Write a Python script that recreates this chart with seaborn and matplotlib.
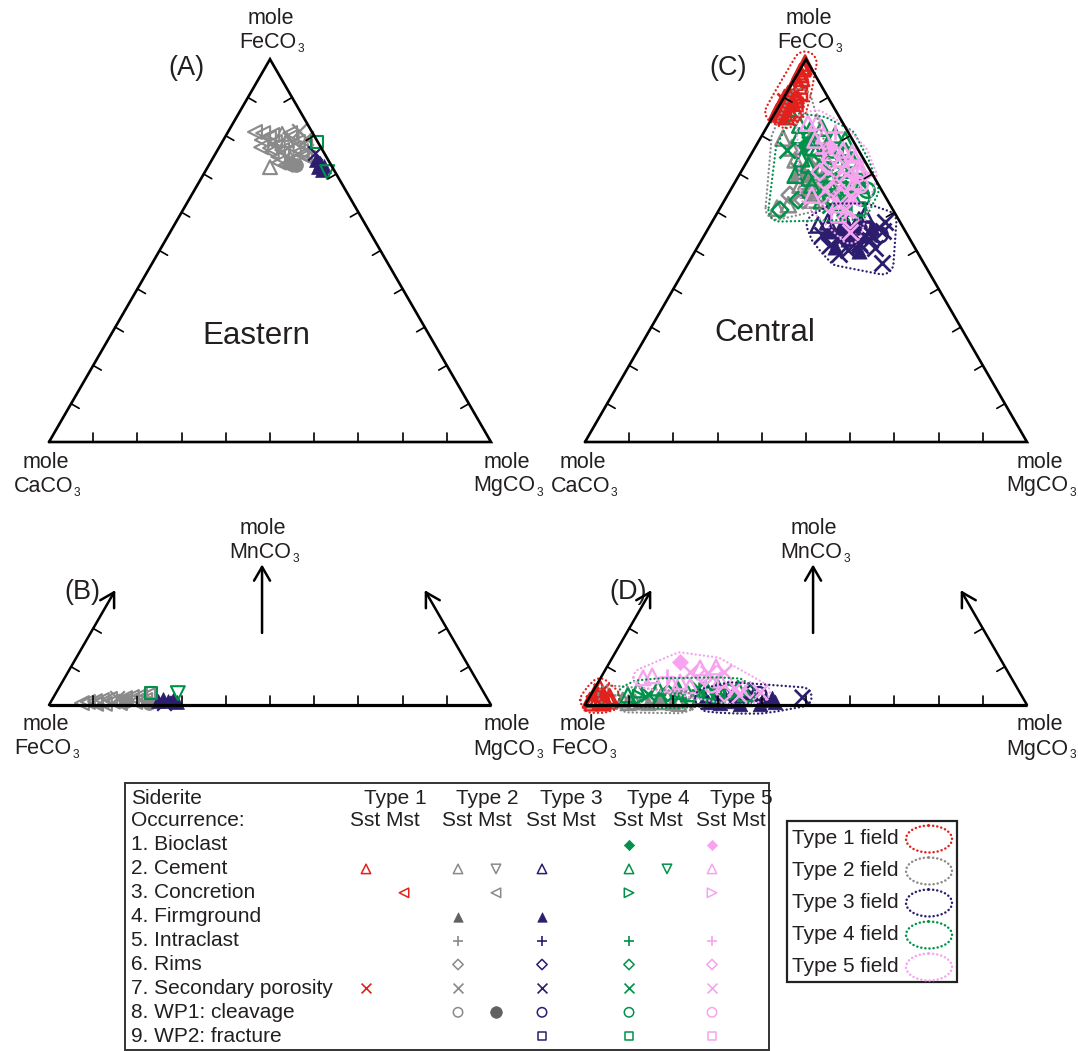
import warnings
warnings.filterwarnings('ignore')
import numpy as np
import pandas as pd
import matplotlib
matplotlib.use('Agg')
import matplotlib.pyplot as plt
from matplotlib.patches import Rectangle, Ellipse
import seaborn as sns

# ---------------------------------------------------------------- data
# Upper ternaries: mole % FeCO3 and MgCO3 (CaCO3 = remainder)
# Lower plots: mole % MgCO3 and MnCO3 (FeCO3 = remainder)
# occurrence codes: bio, cem_s, cem_m, con_s, con_m, firm, intra, rims, sec, wp1_s, wp1_m, wp2

# ---- Eastern (A)
A_T2_FE = [81.0, 80.7, 80.2, 80.5, 80.7, 81.2, 78.9, 78.4, 78.9, 78.4, 79.4, 76.8, 76.3, 76.8, 77.3,
           74.5, 74.2, 75.0, 71.8, 72.4, 72.4, 74.2, 72.9, 79.5, 77.5, 75.5, 73.5, 77.0, 75.8, 73.0,
           79.8, 76.0, 74.8]
A_T2_MG = [6.1, 8.1, 10.4, 12.5, 14.2, 16.0, 8.7, 11.9, 14.4, 17.1, 18.4, 11.6, 14.6, 17.0, 19.3,
           14.6, 17.4, 19.7, 14.1, 17.4, 19.7, 21.5, 18.1, 10.0, 13.0, 16.0, 18.5, 9.5, 12.5, 15.5,
           15.0, 19.0, 20.5]
A_T2_OCC = ['con_m', 'con_m', 'con_m', 'cem_s', 'con_m', 'sec', 'con_m', 'con_m', 'cem_s', 'con_m',
            'sec', 'con_m', 'con_m', 'con_m', 'con_m', 'con_m', 'cem_s', 'con_m', 'cem_s', 'con_m',
            'wp1_m', 'con_m', 'wp1_m', 'con_m', 'con_m', 'con_m', 'con_m', 'con_m', 'con_m', 'con_m',
            'con_m', 'con_m', 'con_m']
A_T3_FE = [75.5, 73.7, 72.9, 72.1, 71.8, 71.1]
A_T3_MG = [22.4, 23.6, 24.9, 26.2, 25.0, 26.2]
A_T3_OCC = ['sec', 'firm', 'firm', 'firm', 'firm', 'firm']
A_T4_FE = [78.4, 70.5]
A_T4_MG = [21.5, 27.7]
A_T4_OCC = ['wp2', 'cem_m']

# ---- Eastern (B)
B_T2_MG = [7.2, 8.4, 9.9, 11.3, 13.0, 14.5, 16.3, 17.7, 19.4, 21.1, 21.1, 19.1, 15.8, 12.5, 22.3,
           10.5, 17.0, 14.0]
B_T2_MN = [0.5, 0.8, 1.0, 1.3, 1.6, 1.8, 1.8, 2.1, 2.4, 2.6, 1.3, 0.8, 0.5, 0.3, 0.5, 0.3, 1.0, 0.9]
B_T2_OCC = ['con_m', 'con_m', 'con_m', 'con_m', 'con_m', 'sec', 'con_m', 'con_m', 'con_m', 'con_m',
            'con_m', 'con_m', 'con_m', 'con_m', 'wp1_m', 'con_m', 'wp1_m', 'con_m']
B_T3_MG = [24.1, 25.0, 26.4, 27.4, 28.6, 25.8]
B_T3_MN = [1.0, 1.6, 1.0, 1.3, 0.8, 0.6]
B_T3_OCC = ['firm', 'firm', 'firm', 'firm', 'firm', 'sec']
B_T4_MG = [21.5, 27.6]
B_T4_MN = [3.1, 3.1]
B_T4_OCC = ['wp2', 'cem_m']

# ---- Central (C)
C_T1_FE = [99.0, 96.7, 90.1, 86.2, 97.5, 96.0, 94.0, 92.0, 91.0, 90.0, 89.0, 88.5, 88.0, 87.5, 87.0,
           86.5, 86.0, 85.5, 85.0, 89.5, 88.0, 90.5, 87.0, 86.0, 98.0, 95.0, 93.0, 91.0, 89.0, 87.0,
           86.0, 88.0, 90.0]
C_T1_MG = [0.3, 0.3, 0.7, 0.3, 0.5, 0.8, 0.5, 1.0, 0.5, 1.5, 0.8, 2.0, 1.0, 0.3, 1.5, 2.5, 0.8, 1.8,
           3.0, 3.0, 3.5, 2.5, 4.0, 3.5, 0.5, 1.5, 2.0, 3.0, 1.0, 2.5, 1.2, 0.3, 0.2]
C_T1_OCC = ['cem_s'] * 10 + ['sec'] + ['cem_s'] * 4 + ['sec'] + ['cem_s'] * 4 + ['con_m'] + \
           ['cem_s'] * 6 + ['con_m'] + ['cem_s'] * 5
C_T2_FE = [89.3, 79.4, 61.1, 64.5, 67.1, 69.7, 72.4, 71.1, 65.8, 68.4, 63.2, 63.2, 70.5, 73.7, 76.3,
           78.9, 76.8, 64.5, 67.1, 70.0, 68.0, 66.0, 72.0, 74.0, 62.0, 65.0, 69.0]
C_T2_MG = [4.0, 5.1, 12.9, 14.1, 15.1, 14.9, 14.7, 12.6, 17.6, 17.8, 17.7, 19.8, 17.9, 10.7, 11.0,
           11.5, 8.4, 20.5, 20.8, 13.0, 16.0, 18.0, 17.0, 14.0, 15.0, 20.0, 19.0]
C_T2_OCC = ['intra', 'cem_s', 'cem_s', 'rims', 'cem_s', 'firm', 'cem_s', 'sec', 'cem_s', 'cem_s',
            'rims', 'cem_s', 'cem_s', 'cem_s', 'sec', 'cem_s', 'cem_s', 'wp1_s', 'cem_s', 'firm',
            'cem_s', 'cem_s', 'cem_s', 'sec', 'cem_s', 'cem_s', 'firm']
C_T3_FE = [54.1, 51.5, 52.8, 50.2, 51.5, 52.8, 55.9, 57.5, 50.7, 46.8, 59.3, 58.0, 56.7, 59.3, 55.9,
           54.1, 54.9, 57.5, 56.7, 54.1, 55.9, 57.0, 55.0, 53.0, 52.0, 50.0, 56.0, 54.0, 51.0, 49.0,
           58.0, 53.0, 55.0]
C_T3_MG = [26.6, 29.7, 31.3, 34.4, 36.5, 38.1, 38.3, 39.1, 40.3, 43.8, 26.9, 29.8, 32.7, 33.7, 29.7,
           32.9, 34.8, 26.2, 24.4, 39.7, 37.0, 30.0, 28.0, 33.0, 36.0, 37.0, 35.0, 38.0, 31.0, 33.0,
           33.0, 29.0, 40.0]
C_T3_OCC = ['sec'] * 10 + ['cem_s', 'firm', 'firm', 'cem_s', 'firm', 'firm', 'rims', 'cem_s', 'cem_s',
                           'wp1_s', 'firm', 'firm', 'firm', 'firm', 'sec', 'firm', 'wp2', 'sec', 'firm',
                           'sec', 'cem_s', 'rims', 'sec']
C_T4_FE = [82.8, 81.5, 82.0, 80.2, 78.9, 77.6, 76.8, 76.3, 75.0, 73.7, 72.4, 71.6, 71.1, 69.7, 68.4,
           67.1, 66.4, 65.8, 64.5, 63.7, 61.9, 61.1, 76.3, 69.7, 60.6, 63.2, 65.8, 61.1, 63.2, 80.0,
           79.0, 78.0, 74.0, 73.0, 70.0, 68.0, 66.0, 63.0, 69.0, 75.0, 77.0, 72.0, 67.0, 71.0, 76.0]
C_T4_MG = [7.2, 10.2, 12.6, 16.5, 19.4, 11.0, 14.3, 17.3, 20.6, 23.6, 14.3, 17.4, 21.0, 24.7, 27.6,
           17.8, 21.3, 24.8, 28.2, 30.8, 24.5, 28.3, 7.6, 12.7, 13.8, 16.6, 30.9, 31.2, 26.1, 8.5,
           12.0, 16.0, 12.0, 17.0, 20.0, 23.0, 26.0, 22.0, 16.0, 18.0, 13.0, 26.0, 29.0, 23.0, 21.0]
C_T4_OCC = ['cem_s', 'cem_s', 'cem_s', 'cem_s', 'cem_s', 'bio', 'cem_s', 'cem_s', 'intra', 'cem_s',
            'cem_s', 'cem_s', 'con_s', 'cem_s', 'sec', 'cem_s', 'cem_s', 'cem_m', 'cem_s', 'wp1_s',
            'sec', 'cem_s', 'sec', 'cem_s', 'rims', 'rims', 'wp1_s', 'wp2', 'sec', 'cem_s',
            'cem_s', 'cem_s', 'cem_s', 'sec', 'cem_s', 'cem_s', 'rims', 'cem_s', 'cem_s', 'cem_s',
            'cem_s', 'cem_s', 'cem_s', 'cem_s', 'cem_s']
C_T5_FE = [83.3, 83.6, 81.0, 75.5, 76.3, 75.5, 78.9, 73.7, 72.4, 71.1, 70.5, 69.0, 67.9, 67.1, 65.8,
           64.5, 63.7, 61.9, 60.6, 58.0, 54.9, 59.3, 64.5, 69.7, 80.0, 77.0, 74.0, 72.0, 70.0, 68.0,
           66.0, 64.0, 62.0, 71.0, 75.0]
C_T5_MG = [8.8, 10.7, 16.1, 16.1, 20.2, 22.7, 12.6, 18.6, 22.6, 26.2, 17.9, 22.1, 25.6, 28.7, 21.4,
           25.4, 28.8, 24.5, 28.5, 31.0, 32.5, 27.6, 19.1, 28.5, 14.0, 17.0, 21.0, 19.0, 24.0, 27.0,
           23.0, 28.0, 26.0, 27.0, 24.0]
C_T5_OCC = ['cem_s', 'cem_s', 'intra', 'intra', 'cem_s', 'cem_s', 'cem_s', 'rims', 'sec', 'cem_s',
            'rims', 'sec', 'rims', 'wp1_s', 'sec', 'rims', 'sec', 'rims', 'sec', 'rims',
            'sec', 'wp2', 'cem_s', 'con_s', 'cem_s', 'bio', 'cem_s', 'rims', 'sec', 'cem_s',
            'rims', 'sec', 'cem_s', 'cem_s', 'cem_s']

# ---- Central (D)
D_T1_MG = [0.5, 2.0, 3.9, 0.7, 1.2, 1.3, 3.8, 5.1, 2.5, 1.8, 4.5, 0.9, 3.0]
D_T1_MN = [1.3, 1.8, 1.3, 3.1, 4.4, 0.5, 0.5, 1.0, 2.8, 3.6, 2.2, 2.2, 0.8]
D_T1_OCC = ['cem_s'] * 9 + ['sec', 'cem_s', 'con_m', 'cem_s']
D_T2_MG = [3.9, 7.9, 10.9, 14.0, 16.6, 19.4, 22.2, 12.5, 18.0, 21.0, 9.5, 15.5]
D_T2_MN = [2.6, 1.3, 0.8, 0.5, 0.8, 0.5, 0.8, 1.2, 1.3, 0.4, 0.6, 1.5]
D_T2_OCC = ['intra', 'cem_s', 'cem_s', 'firm', 'cem_s', 'firm', 'sec', 'cem_s', 'rims', 'cem_s',
            'cem_s', 'firm']
D_T3_MG = [26.2, 28.2, 30.9, 32.9, 35.4, 37.4, 40.1, 41.4, 30.3, 34.9, 39.5, 31.1, 35.8, 48.0, 27.5,
           33.0, 38.0, 42.5]
D_T3_MN = [1.8, 2.4, 1.6, 2.1, 1.6, 2.1, 1.3, 1.8, 0.5, 0.3, 0.3, 3.4, 3.1, 2.1, 0.8, 1.0, 2.8, 0.8]
D_T3_OCC = ['firm', 'firm', 'cem_s', 'firm', 'firm', 'sec', 'firm', 'firm', 'firm', 'firm', 'firm',
            'sec', 'rims', 'sec', 'firm', 'firm', 'wp1_s', 'firm']
D_T4_MG = [8.4, 10.0, 12.8, 14.3, 17.2, 18.9, 21.9, 23.3, 26.1, 27.7, 30.7, 32.4, 34.8, 25.0, 20.6,
           16.1, 11.5, 29.0, 24.0, 19.5]
D_T4_MN = [2.6, 3.9, 2.9, 4.4, 3.1, 4.2, 2.9, 4.4, 3.4, 4.7, 3.4, 4.4, 2.9, 2.1, 1.8, 1.8, 2.0, 2.5,
           3.8, 3.5]
D_T4_OCC = ['cem_s', 'cem_s', 'sec', 'cem_s', 'rims', 'cem_s', 'cem_s', 'sec', 'cem_s', 'cem_s',
            'wp1_s', 'cem_s', 'cem_s', 'cem_s', 'cem_s', 'cem_s', 'con_s', 'wp2', 'intra', 'cem_s']
D_T5_MG = [15.9, 9.6, 11.4, 14.9, 19.4, 21.2, 23.6, 24.7, 27.1, 23.6, 27.3, 31.7, 35.4, 37.9, 21.3,
           16.9, 26.0, 30.0, 18.5, 33.5]
D_T5_MN = [11.2, 7.1, 7.6, 7.3, 8.6, 9.7, 8.4, 9.9, 8.6, 7.1, 6.5, 4.4, 3.9, 3.4, 5.0, 5.5, 5.2, 3.0,
           6.0, 2.6]
D_T5_OCC = ['bio', 'cem_s', 'cem_s', 'intra', 'sec', 'cem_s', 'sec', 'cem_s', 'sec', 'rims',
            'cem_s', 'sec', 'rims', 'sec', 'cem_s', 'cem_s', 'wp1_s', 'rims', 'cem_s', 'sec']

# legend table content
ROW_LABELS = ['1. Bioclast', '2. Cement', '3. Concretion', '4. Firmground', '5. Intraclast',
              '6. Rims', '7. Secondary porosity', '8. WP1: cleavage', '9. WP2: fracture']
LEGEND_CODES = {1: ['cem_s', 'con_m', 'sec'],
                2: ['cem_s', 'cem_m', 'con_m', 'firm', 'intra', 'rims', 'sec', 'wp1_s', 'wp1_m'],
                3: ['cem_s', 'firm', 'intra', 'rims', 'sec', 'wp1_s', 'wp2'],
                4: ['bio', 'cem_s', 'cem_m', 'con_s', 'intra', 'rims', 'sec', 'wp1_s', 'wp2'],
                5: ['bio', 'cem_s', 'con_s', 'intra', 'rims', 'sec', 'wp1_s', 'wp2']}
TYPE_NAMES = ['Type 1', 'Type 2', 'Type 3', 'Type 4', 'Type 5']

# ---------------------------------------------------------------- styles
TYPE_COLORS = {1: '#E3211C', 2: '#8A8A8A', 3: '#2D1D6E', 4: '#00924A', 5: '#F7A3F0'}
STYLE = {'bio': ('D', 'filled'), 'cem_s': ('^', 'hollow'), 'cem_m': ('v', 'hollow'),
         'con_s': ('>', 'hollow'), 'con_m': ('<', 'hollow'), 'firm': ('^', 'filled'),
         'intra': ('+', 'line'), 'rims': ('D', 'hollow'), 'sec': ('x', 'line'),
         'wp1_s': ('o', 'hollow'), 'wp1_m': ('o', 'filled'), 'wp2': ('s', 'hollow')}
ROW_OF = {'bio': 0, 'cem_s': 1, 'cem_m': 1, 'con_s': 2, 'con_m': 2, 'firm': 3, 'intra': 4,
          'rims': 5, 'sec': 6, 'wp1_s': 7, 'wp1_m': 7, 'wp2': 8}
MST = {'cem_m', 'con_m', 'wp1_m'}

sns.set_theme(style='white')
plt.rcParams['font.family'] = ['Liberation Sans', 'DejaVu Sans']
TXT = '#231F20'

W, H = 1078, 1051
L = 442.0
S3 = np.sqrt(3) / 2
fig = plt.figure(figsize=(W / 100, H / 100), dpi=100)
fig.patch.set_facecolor('white')

# overlay axes in pixel units (text, legend)
ax0 = fig.add_axes([0, 0, 1, 1])
ax0.set_xlim(0, W)
ax0.set_ylim(H, 0)
ax0.axis('off')
ax0.patch.set_alpha(0)


def panel_axes(X0, Y0, xr, yr):
    left, right = X0 + xr[0] * L, X0 + xr[1] * L
    top, bot = Y0 - yr[1] * L, Y0 - yr[0] * L
    ax = fig.add_axes([left / W, 1 - bot / H, (right - left) / W, (bot - top) / H])
    ax.patch.set_alpha(0)
    return ax


def draw_group(ax, x, y, color, code, s, lw, z=3):
    marker, kind = STYLE[code]
    kw = dict(x=np.asarray(x, float), y=np.asarray(y, float), ax=ax, marker=marker, legend=False,
              zorder=z, clip_on=False)
    if marker == 'D':
        s = s * 0.6
    if marker == 's':
        s = s * 0.75
    if kind == 'hollow':
        kw.update(color=color, facecolor='none', edgecolor=color, linewidth=lw, s=s)
    elif kind == 'filled':
        kw.update(color=color, edgecolor=color, linewidth=0.5, s=s)
    else:
        kw.update(color=color, edgecolor=color, linewidth=lw * 1.1, s=s * 1.1)
    sns.scatterplot(**kw)


def hull(P):
    pts = sorted(set(map(tuple, np.round(np.asarray(P), 7))))
    if len(pts) < 3:
        return pts

    def cross(o, a, b):
        return (a[0] - o[0]) * (b[1] - o[1]) - (a[1] - o[1]) * (b[0] - o[0])
    lower, upper = [], []
    for p in pts:
        while len(lower) >= 2 and cross(lower[-2], lower[-1], p) <= 0:
            lower.pop()
        lower.append(p)
    for p in reversed(pts):
        while len(upper) >= 2 and cross(upper[-2], upper[-1], p) <= 0:
            upper.pop()
        upper.append(p)
    return lower[:-1] + upper[:-1]


def draw_field(ax, x, y, color, r):
    hp = np.array(hull(np.column_stack([x, y])))
    ang = np.linspace(0, 2 * np.pi, 40, endpoint=False)
    Q = (hp[:, None, :] + r * np.stack([np.cos(ang), np.sin(ang)], -1)[None]).reshape(-1, 2)
    hq = np.array(hull(Q))
    hq = np.vstack([hq, hq[:1]])
    ax.plot(hq[:, 0], hq[:, 1], color=color, lw=1.7, ls=(0, (0.05, 1.7)),
            dash_capstyle='round', zorder=6, clip_on=False)


def upper_xy(fe, mg):
    fe = np.asarray(fe, float) / 100
    mg = np.asarray(mg, float) / 100
    return mg + fe / 2, fe * S3


def lower_xy(mg, mn):
    mg = np.asarray(mg, float) / 100
    mn = np.asarray(mn, float) / 100
    return mg + mn / 2, mn * S3


def scatter_panel(ax, groups, conv, s, lw, fields=False, r=0.022):
    for t, a, b, occ in groups:
        x, y = conv(a, b)
        df = pd.DataFrame({'x': x, 'y': y, 'occ': occ})
        for code, sub in df.groupby('occ', sort=False):
            draw_group(ax, sub['x'], sub['y'], TYPE_COLORS[t], code, s, lw)
    if fields:
        for t, a, b, occ in groups:
            x, y = conv(a, b)
            draw_field(ax, x, y, TYPE_COLORS[t], r)


def draw_triangle(ax):
    ax.plot([0, 1, 0.5, 0], [0, 0, S3, 0], color='black', lw=1.9, zorder=7,
            solid_joinstyle='miter', clip_on=False)
    t = 0.021
    for i in range(1, 10):
        f = i / 10
        ax.plot([f, f], [0, t], color='black', lw=1.2, zorder=7)
        px, py = f * 0.5, f * S3
        ax.plot([px, px + t * S3], [py, py - t * 0.5], color='black', lw=1.2, zorder=7)
        px, py = 1 - f * 0.5, f * S3
        ax.plot([px, px - t * S3], [py, py - t * 0.5], color='black', lw=1.2, zorder=7)


def draw_lower_frame(ax, xm):
    ax.plot([0, 1], [0, 0], color='black', lw=2.3, zorder=7, solid_capstyle='butt')
    t = 0.021
    for i in range(1, 10):
        f = i / 10
        ax.plot([f, f], [0, t], color='black', lw=1.2, zorder=7)
    ap = dict(arrowstyle='->,head_length=0.55,head_width=0.32', lw=1.8, color='black',
              shrinkA=0, shrinkB=0, mutation_scale=18)
    ax.annotate('', xy=(0.15, 0.3 * S3), xytext=(0, 0), arrowprops=ap, zorder=7)
    ax.annotate('', xy=(0.85, 0.3 * S3), xytext=(1, 0), arrowprops=ap, zorder=7)
    ax.annotate('', xy=(xm, 0.318), xytext=(xm, 0.163), arrowprops=ap, zorder=7)
    for f in (0.1, 0.2):
        px, py = f * 0.5, f * S3
        ax.plot([px, px + t * S3], [py, py - t * 0.5], color='black', lw=1.2, zorder=7)
        px, py = 1 - f * 0.5, f * S3
        ax.plot([px, px - t * S3], [py, py - t * 0.5], color='black', lw=1.2, zorder=7)


# ---------------------------------------------------------------- panels
UX, UY = (-0.12, 1.12), (-0.12, 1.0)
LX, LY = (-0.12, 1.12), (-0.09, 0.36)

axA = panel_axes(49, 442, UX, UY)
scatter_panel(axA, [(2, A_T2_FE, A_T2_MG, A_T2_OCC), (3, A_T3_FE, A_T3_MG, A_T3_OCC),
                    (4, A_T4_FE, A_T4_MG, A_T4_OCC)], upper_xy, 100, 1.5)
draw_triangle(axA)

axC = panel_axes(585, 442, UX, UY)
scatter_panel(axC, [(2, C_T2_FE, C_T2_MG, C_T2_OCC), (3, C_T3_FE, C_T3_MG, C_T3_OCC),
                    (4, C_T4_FE, C_T4_MG, C_T4_OCC), (5, C_T5_FE, C_T5_MG, C_T5_OCC),
                    (1, C_T1_FE, C_T1_MG, C_T1_OCC)], upper_xy, 120, 1.8, fields=True, r=0.026)
draw_triangle(axC)

axB = panel_axes(49, 705, LX, LY)
scatter_panel(axB, [(2, B_T2_MG, B_T2_MN, B_T2_OCC), (3, B_T3_MG, B_T3_MN, B_T3_OCC),
                    (4, B_T4_MG, B_T4_MN, B_T4_OCC)], lower_xy, 100, 1.5)
draw_lower_frame(axB, 0.482)

axD = panel_axes(585, 705, LX, LY)
scatter_panel(axD, [(2, D_T2_MG, D_T2_MN, D_T2_OCC), (3, D_T3_MG, D_T3_MN, D_T3_OCC),
                    (4, D_T4_MG, D_T4_MN, D_T4_OCC), (5, D_T5_MG, D_T5_MN, D_T5_OCC),
                    (1, D_T1_MG, D_T1_MN, D_T1_OCC)], lower_xy, 110, 1.7, fields=True, r=0.022)
draw_lower_frame(axD, 0.516)

for ax, (xr, yr) in [(axA, (UX, UY)), (axC, (UX, UY)), (axB, (LX, LY)), (axD, (LX, LY))]:
    ax.set_xlim(*xr)
    ax.set_ylim(*yr)
    ax.axis('off')

# ---------------------------------------------------------------- panel text
FS_V = 15.5
renderer = fig.canvas.get_renderer()


def chem(x, y, base, sub, fs=FS_V):
    tb = ax0.text(0, 0, base, fontsize=fs, ha='left', va='baseline', color=TXT)
    ts = ax0.text(0, 0, sub, fontsize=fs * 0.55, ha='left', va='baseline', color=TXT)
    wb = tb.get_window_extent(renderer).width
    ws = ts.get_window_extent(renderer).width
    x0 = x - (wb + ws + 1) / 2
    tb.set_position((x0, y + 7.5))
    ts.set_position((x0 + wb + 1, y + 11.5))


def vlabel(x, y, base):
    ax0.text(x, y, 'mole', ha='center', va='center', fontsize=FS_V, color=TXT)
    chem(x + 1, y + 22, base, '3')


vlabel(271, 18, 'FeCO'); vlabel(46, 462, 'CaCO'); vlabel(507, 462, 'MgCO')
vlabel(809, 18, 'FeCO'); vlabel(583, 462, 'CaCO'); vlabel(1040, 462, 'MgCO')
vlabel(263, 528, 'MnCO'); vlabel(46, 725, 'FeCO'); vlabel(507, 725, 'MgCO')
vlabel(814, 528, 'MnCO'); vlabel(583, 725, 'FeCO'); vlabel(1040, 725, 'MgCO')
for s_, x, y in [('(A)', 186, 68), ('(C)', 728, 68), ('(B)', 82, 592), ('(D)', 628, 592)]:
    ax0.text(x, y, s_, ha='center', va='center', fontsize=19.5, color=TXT)
ax0.text(256, 336, 'Eastern', ha='center', va='center', fontsize=22.5, color=TXT)
ax0.text(765, 333, 'Central', ha='center', va='center', fontsize=22.5, color=TXT)

# ---------------------------------------------------------------- legend table
FS_L = 15
ax0.add_patch(Rectangle((125, 783), 644, 267, fill=False, lw=1.4, edgecolor='#333333'))
ax0.text(131, 798, 'Siderite', ha='left', va='center', fontsize=FS_L, color=TXT)
ax0.text(131, 821, 'Occurrence:', ha='left', va='center', fontsize=FS_L, color=TXT)
ROW_Y0, ROW_DY = 845, 23.9
for i, lab in enumerate(ROW_LABELS):
    ax0.text(131, ROW_Y0 + i * ROW_DY, lab, ha='left', va='center', fontsize=FS_L, color=TXT)
COLC = {1: 385, 2: 477, 3: 561, 4: 648, 5: 731}
for t in range(1, 6):
    ax0.text(COLC[t] + 42, 798, TYPE_NAMES[t - 1], ha='right', va='center', fontsize=FS_L, color=TXT)
    ax0.text(COLC[t], 821, 'Sst Mst', ha='center', va='center', fontsize=FS_L, color=TXT)
    for code in LEGEND_CODES[t]:
        cx = COLC[t] + (19 if code in MST else -19)
        cy = ROW_Y0 + ROW_OF[code] * ROW_DY
        col = TYPE_COLORS[t]
        if t == 2 and STYLE[code][1] == 'filled':
            col = '#616161'
        ss = 70 if code == 'wp1_m' else 46
        draw_group(ax0, [cx], [cy], col, code, ss, 1.1)

# field legend
ax0.add_patch(Rectangle((787, 821), 170, 161, fill=False, lw=1.6, edgecolor='#222222'))
for k in range(5):
    yy = 839 + 32 * k
    ax0.text(792, yy, f'Type {k + 1} field', ha='left', va='center', fontsize=FS_L, color=TXT)
    ax0.add_patch(Ellipse((929, yy), 46, 27, fill=False, edgecolor=TYPE_COLORS[k + 1], lw=1.8,
                          ls=(0, (0.05, 1.6)), capstyle='round'))

ax0.set_xlim(0, W)
ax0.set_ylim(H, 0)
ax0.axis('off')

fig.savefig('out.png', dpi=100, facecolor='white')
